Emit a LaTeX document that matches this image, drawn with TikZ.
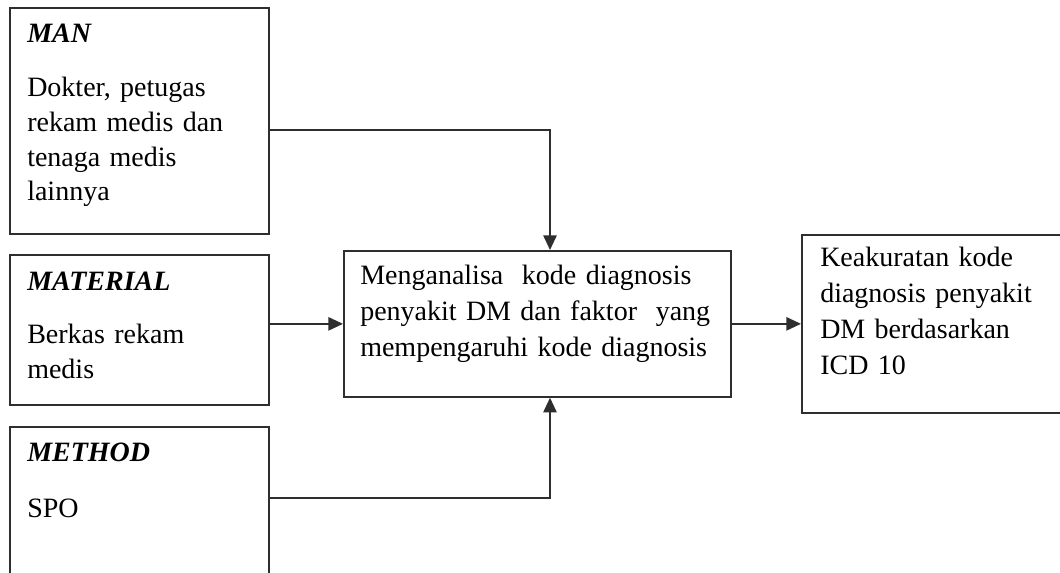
\documentclass[tikz,border=0pt]{standalone}
\usepackage{fontspec}
\setmainfont{Liberation Serif}
\usepackage{tikz}
\usetikzlibrary{arrows.meta}
\definecolor{linegray}{HTML}{2E2E2E}

\begin{document}
\begin{tikzpicture}[x=0.75pt,y=-0.75pt,
    box/.style={draw=linegray,line width=1.3pt,inner sep=0pt,anchor=north west},
    txt/.style={anchor=base west,inner sep=0pt,align=left,text width=#1,
      font=\fontsize{21}{26}\selectfont},
    txtwide/.style={txt=#1,font=\fontsize{21}{27}\selectfont},
    arr/.style={draw=linegray,line width=1.3pt,-{Triangle[length=11pt,width=10pt]}}]
  \useasboundingbox (0,0) rectangle (1060,573);
  % boxes
  \node[box,minimum width=194.25pt,minimum height=169.5pt] (man) at (9,7) {};
  \node[box,minimum width=194.25pt,minimum height=112.5pt] (material) at (9,254) {};
  \node[box,minimum width=194.25pt,minimum height=120pt] (method) at (9,426) {};
  \node[box,minimum width=290.25pt,minimum height=109.5pt] (analisa) at (343,250) {};
  \node[box,minimum width=202.5pt,minimum height=133.5pt] (hasil) at (801,234) {};
  % texts
  \node[txt=180pt] (manhead) at (27,43) {\textbf{\textit{MAN}}};
  \node[txt=180pt] (mantext) at (27,97) {Dokter, petugas\\rekam medis dan\\tenaga medis\\lainnya};
  \node[txt=180pt] (materialhead) at (27,291) {\textbf{\textit{MATERIAL}}};
  \node[txt=180pt] (materialtext) at (27,344) {Berkas rekam\\medis};
  \node[txt=180pt] (methodhead) at (27,461) {\textbf{\textit{METHOD}}};
  \node[txt=180pt] (methodtext) at (27,517) {SPO};
  \node[txtwide=270pt] (analisatext) at (360,285)
    {Menganalisa\ \ kode diagnosis\\penyakit DM dan faktor\ \ yang\\mempengaruhi kode diagnosis};
  \node[txtwide=180pt] (hasiltext) at (820,267)
    {Keakuratan kode\\diagnosis penyakit\\DM berdasarkan\\ICD 10};
  % arrows
  \coordinate (bendtop) at (550,130);
  \coordinate (bendbot) at (550,498);
  \draw[arr] (man.east |- bendtop) -- (bendtop) -- (bendtop |- analisa.north);
  \draw[arr] (material.east |- analisa.west) -- (analisa.west);
  \draw[arr] (method.east |- bendbot) -- (bendbot) -- (bendbot |- analisa.south);
  \draw[arr] (analisa.east) -- (hasil.west |- analisa.east);
\end{tikzpicture}
\end{document}
